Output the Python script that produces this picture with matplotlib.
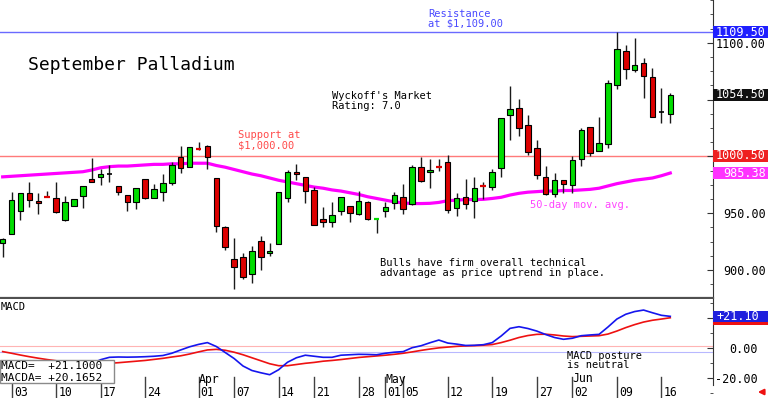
import matplotlib
matplotlib.use('Agg')
import matplotlib.pyplot as plt
import matplotlib.transforms as mtransforms
from matplotlib.patches import Rectangle
from matplotlib.ticker import MultipleLocator, FuncFormatter

plt.rcParams['font.family'] = ['DejaVu Sans Mono', 'DejaVu Sans']

# daily OHLC, Feb 28 .. Jun 17
opens = [923.5, 931.7, 951.7, 967.5, 961.0, 965.1, 963.1, 944.0, 956.3, 964.9,
         980.4, 982.1, 984.6, 974.2, 966.0, 960.1, 979.8, 963.6, 968.6, 976.8,
         999.2, 990.4, 1007.1, 1009.4, 980.7, 937.6, 909.4, 911.4, 896.5, 925.5,
         915.0, 922.6, 963.1, 986.5, 981.9, 970.4, 944.6, 942.0, 952.2, 956.3,
         949.3, 959.6, 944.6, 952.2, 958.7, 964.0, 957.8, 990.4, 986.3, 991.5,
         994.8, 954.6, 964.5, 961.0, 974.2, 972.8, 989.5, 1036.2, 1042.3, 1027.4,
         1007.1, 982.1, 966.6, 979.2, 974.8, 997.4, 1026.1, 1004.8, 1010.9, 1062.9,
         1092.8, 1076.1, 1082.0, 1070.2, 1039.3, 1037.1]
highs = [927.9, 968.4, 967.8, 977.5, 967.8, 969.8, 977.2, 965.4, 962.8, 974.2,
         998.3, 989.2, 992.7, 974.2, 966.0, 971.9, 979.8, 975.4, 984.8, 995.3,
         1009.1, 1008.0, 1012.9, 1010.0, 980.7, 938.7, 927.9, 914.7, 921.4, 929.9,
         924.0, 968.4, 988.0, 993.3, 981.9, 972.8, 955.7, 959.9, 964.0, 956.3,
         969.5, 961.0, 945.5, 959.9, 968.6, 975.4, 992.4, 999.5, 997.4, 997.4,
         1001.2, 967.5, 980.4, 981.6, 977.7, 988.9, 1033.5, 1062.0, 1050.5, 1036.4,
         1014.4, 991.8, 985.7, 979.2, 1000.6, 1025.3, 1026.1, 1034.9, 1067.3, 1109.5,
         1098.1, 1104.5, 1086.4, 1077.6, 1059.9, 1055.5]
lows = [911.2, 931.7, 944.0, 955.7, 949.0, 964.0, 950.5, 943.1, 956.1, 954.3,
        977.7, 974.8, 977.2, 965.8, 951.9, 953.7, 962.7, 963.4, 961.0, 974.8,
        985.1, 990.4, 1005.6, 988.6, 933.7, 917.6, 883.0, 892.1, 888.8, 900.0,
        912.3, 922.6, 960.1, 979.2, 959.2, 939.6, 937.6, 938.1, 948.4, 942.5,
        948.4, 944.0, 932.3, 946.9, 954.0, 949.0, 957.2, 977.7, 972.4, 987.4,
        950.2, 947.3, 953.4, 946.0, 962.2, 970.4, 982.1, 1014.2, 1018.0, 1001.2,
        980.1, 966.0, 964.5, 967.5, 967.5, 991.5, 1000.3, 1004.8, 1007.7, 1059.1,
        1068.1, 1074.6, 1051.1, 1034.9, 1029.7, 1029.1]
closes = [927.0, 961.6, 967.8, 961.4, 958.7, 964.3, 950.8, 959.6, 962.5, 974.2,
          977.7, 984.5, 984.6, 968.9, 960.1, 971.9, 963.1, 971.3, 976.8, 992.4,
          989.5, 1008.0, 1006.3, 999.7, 938.7, 920.0, 902.4, 894.1, 917.0, 911.2,
          916.7, 968.4, 986.3, 984.2, 969.8, 939.6, 942.3, 948.2, 964.0, 950.4,
          960.7, 944.9, 944.8, 955.7, 965.8, 953.4, 990.4, 978.3, 988.0, 990.4,
          952.8, 963.1, 958.1, 971.9, 973.7, 986.3, 1033.5, 1041.5, 1024.7, 1003.9,
          983.6, 966.6, 979.5, 975.7, 997.1, 1023.2, 1002.7, 1011.5, 1064.4, 1094.5,
          1076.9, 1080.5, 1071.0, 1034.9, 1039.3, 1054.5]

ma50 = [982.0, 982.5, 983.0, 983.5, 984.0, 984.5, 985.0, 985.5, 986.0, 986.5,
        988.0, 990.0, 991.0, 991.5, 991.5, 992.0, 992.5, 993.0, 993.0, 993.5,
        993.5, 994.0, 994.0, 994.0, 992.0, 990.5, 988.5, 986.5, 984.5, 983.0,
        981.0, 979.0, 977.5, 976.0, 974.5, 973.0, 972.0, 970.5, 969.5, 968.0,
        966.5, 964.5, 963.0, 961.5, 960.0, 959.0, 958.5, 958.5, 958.7, 959.5,
        961.0, 961.5, 962.0, 962.0, 962.2, 963.0, 964.0, 966.0, 967.5, 968.5,
        969.0, 969.5, 969.5, 970.0, 970.0, 970.5, 971.0, 972.0, 974.0, 976.0,
        977.5, 979.0, 980.0, 981.0, 983.0, 985.38]

macd = [-9.0, -11.0, -13.0, -14.5, -15.5, -16.0, -16.0, -15.5, -14.0, -12.5,
        -10.5, -7.8, -6.2, -6.0, -6.1, -6.0, -5.8, -5.5, -5.0, -3.5,
        -1.3, 0.8, 2.4, 3.6, 1.0, -3.0, -7.0, -12.0, -15.0, -16.5,
        -17.8, -14.5, -9.5, -6.5, -4.8, -5.5, -6.2, -6.2, -4.8, -4.5,
        -4.2, -4.3, -4.5, -3.5, -2.8, -2.4, 0.2, 1.5, 3.5, 5.3,
        3.3, 2.6, 1.7, 1.8, 2.2, 3.6, 8.0, 13.1, 14.2, 13.0,
        11.3, 9.0, 7.0, 5.8, 6.5, 8.2, 8.7, 9.1, 14.0, 19.3,
        22.5, 24.3, 25.3, 23.5, 21.8, 21.1]
macda = [-2.4, -3.5, -4.7, -5.8, -6.8, -7.7, -8.5, -9.2, -9.8, -10.2,
         -10.5, -10.5, -10.2, -9.8, -9.3, -8.8, -8.3, -7.6, -6.9, -6.0,
         -5.2, -4.0, -2.6, -1.3, -0.9, -1.5, -2.8, -4.5, -6.5, -8.5,
         -10.5, -11.8, -11.8, -11.0, -10.2, -9.6, -8.8, -8.3, -7.7, -7.0,
         -6.3, -5.8, -5.3, -4.8, -4.2, -3.5, -2.6, -1.6, -0.7, 0.1,
         0.6, 1.1, 1.4, 1.6, 1.9, 2.3, 3.6, 5.2, 7.0, 8.3,
         9.1, 9.2, 8.7, 8.0, 7.6, 7.8, 8.0, 8.2, 9.3, 11.3,
         13.6, 15.6, 17.3, 18.5, 19.3, 20.17]

support = 1000.5
resistance = 1109.5

date_pos = [1, 6, 11, 16, 22, 26, 31, 35, 40, 43, 45, 50, 55, 60, 64, 69, 74]
date_labels = ['03', '10', '17', '24', '01', '07', '14', '21', '28', '01', '05',
               '12', '19', '27', '02', '09', '16']
month_pos = [22, 43, 64]
month_labels = ['Apr', 'May', 'Jun']

GREEN = '#00dd00'
RED = '#dd0000'
MAGENTA = '#ff00ff'

W, H = 768, 398
fig = plt.figure(figsize=(7.68, 3.98), dpi=100)


def fx(px):
    return px / W


def fy(py):
    return 1 - py / H


ax = fig.add_axes([0, fy(298), fx(713), 298 / H])
ax2 = fig.add_axes([0, 0, fx(713), 99 / H])
xlim = (-0.3, 79.8)

# --- price panel
ax.axhline(resistance, color='#6a6aff', lw=1, zorder=1)
ax.axhline(support, color='#ff7a7a', lw=1, zorder=1)
ax.plot(range(len(ma50)), ma50, color=MAGENTA, lw=2.3, zorder=2)

for i in range(len(opens)):
    o, h, l, c = opens[i], highs[i], lows[i], closes[i]
    ax.vlines(i, l, h, color='#1a1a1a', lw=1, zorder=3)
    col = GREEN if c > o else RED
    if o == c:
        ax.hlines(o, i - 0.3, i + 0.3, color='black', lw=1.2, zorder=4)
    elif abs(c - o) < 1.5:
        ax.hlines((o + c) / 2, i - 0.32, i + 0.32, color=col, lw=1.6, zorder=4)
    else:
        ax.bar(i, abs(c - o), bottom=min(o, c), width=0.62, color=col,
               edgecolor='black', lw=0.8, zorder=4)

ax.set_xlim(*xlim)
ax.set_ylim(875.35, 1137.7)
ax.set_xticks([])
ax.yaxis.tick_right()
ax.yaxis.set_major_locator(MultipleLocator(50))
ax.yaxis.set_minor_locator(MultipleLocator(12.5))
# 1000 and 1050 sit under the value boxes
ax.yaxis.set_major_formatter(FuncFormatter(
    lambda v, p: '' if round(v) in (1000, 1050) else '%.2f' % v))
ax.tick_params(axis='y', which='major', direction='in', length=4, pad=38,
               labelsize=8.5, color='#333333')
ax.tick_params(axis='y', which='minor', direction='in', length=2.5, color='#333333')
for t in ax.get_yticklabels():
    t.set_ha('right')
for s in ['left', 'top']:
    ax.spines[s].set_visible(False)
ax.spines['bottom'].set_color('#505050')
ax.spines['bottom'].set_linewidth(1.6)
ax.spines['right'].set_color('#333333')

# value boxes on the price axis
blend = mtransforms.blended_transform_factory(ax.transAxes, ax.transData)
bw = 56 / 713
bh = 12 / 1.136
for val, col, txt in [(resistance, '#1f1fff', '1109.50'), (closes[-1], '#111111', '1054.50'),
                      (support, '#ee2020', '1000.50'), (ma50[-1], '#ff33ff', '985.38')]:
    ax.add_patch(Rectangle((1.0, val - bh / 2), bw, bh, transform=blend,
                           facecolor=col, edgecolor='none', clip_on=False, zorder=10))
    ax.text(1 + 53 / 713, val, txt, transform=blend, ha='right', va='center',
            color='white', fontsize=8.5, clip_on=False, zorder=11)

# --- MACD panel
ax2.axhline(1.3, color='#ffb4b4', lw=0.8)
ax2.axhline(-2.7, color='#b8b8ff', lw=0.8)
ax2.plot(range(len(macda)), macda, color='#ee1111', lw=1.2, zorder=3)
ax2.plot(range(len(macd)), macd, color='#1515ee', lw=1.2, zorder=4)
ax2.set_xlim(*xlim)
ax2.set_ylim(-33.33, 32.67)
ax2.set_xticks([])
ax2.yaxis.tick_right()
ax2.set_yticks([-20, 0, 20])
ax2.yaxis.set_minor_locator(MultipleLocator(10))
ax2.yaxis.set_major_formatter(FuncFormatter(
    lambda v, p: '' if round(v) == 20 else '%.2f' % v))
ax2.tick_params(axis='y', which='major', direction='in', length=4, pad=32,
                labelsize=8.5, color='#333333')
ax2.tick_params(axis='y', which='minor', direction='in', length=2.5, color='#333333')
for t in ax2.get_yticklabels():
    t.set_ha('right')
for s in ['left', 'top', 'bottom']:
    ax2.spines[s].set_visible(False)
ax2.spines['right'].set_color('#333333')
ax2.spines['right'].set_bounds(-24.67, 32.67)

blend2 = mtransforms.blended_transform_factory(ax2.transAxes, ax2.transData)
ax2.add_patch(Rectangle((1.0, macda[-1] - 7 / 1.5), bw, 8 / 1.5, transform=blend2,
                        facecolor='#ee1111', edgecolor='none', clip_on=False, zorder=10))
ax2.add_patch(Rectangle((1.0, macd[-1] - 5.5 / 1.5), bw, 11 / 1.5, transform=blend2,
                        facecolor='#1f1fdd', edgecolor='none', clip_on=False, zorder=11))
ax2.text(1 + 3 / 713, macd[-1], '+21.10', transform=blend2, ha='left', va='center',
         color='white', fontsize=8.5, clip_on=False, zorder=12)

# dates strip
bx = mtransforms.blended_transform_factory(ax2.transData, ax2.transAxes)
for p, lab in zip(date_pos, date_labels):
    ax2.plot([p, p], [0, 21 / 99], color='#404040', lw=1, transform=bx, clip_on=False)
    ax2.text(p + 0.25, 6 / 99, lab, transform=bx, ha='left', va='center', fontsize=8.3)
for p, lab in zip(month_pos, month_labels):
    ax2.text(p, 19 / 99, lab, transform=bx, ha='left', va='center', fontsize=8.3)

# legend box
fig.patches.append(Rectangle((fx(0), fy(383)), fx(114), 23 / H, transform=fig.transFigure,
                             facecolor='white', edgecolor='#8a8a8a', lw=1, zorder=20))
fig.text(fx(1), fy(366), 'MACD=  +21.1000', fontsize=8, va='center', zorder=21)
fig.text(fx(1), fy(378), 'MACDA= +20.1652', fontsize=8, va='center', zorder=21)

# annotations
fig.text(fx(28), fy(65), 'September Palladium', fontsize=13, va='center')
fig.text(fx(332), fy(91), "Wyckoff's Market\nRating: 7.0", fontsize=7.5, va='top',
         linespacing=1.0)
fig.text(fx(428), fy(9), 'Resistance\nat $1,109.00', fontsize=7.5, va='top',
         color='#4a4aff', linespacing=1.0)
fig.text(fx(238), fy(130), 'Support at\n$1,000.00', fontsize=7.5, va='top',
         color='#ff4a4a', linespacing=1.0)
fig.text(fx(380), fy(258), 'Bulls have firm overall technical\nadvantage as price uptrend in place.',
         fontsize=7.5, va='top', linespacing=1.0)
fig.text(fx(530), fy(205), '50-day mov. avg.', fontsize=7.5, va='center', color='#ff44ff')
fig.text(fx(1), fy(307), 'MACD', fontsize=7.5, va='center')
fig.text(fx(567), fy(351), 'MACD posture\nis neutral', fontsize=7.5, va='top',
         linespacing=0.92)

ax2.annotate('', xy=(755, 6), xytext=(767, 6), xycoords='figure pixels',
             textcoords='figure pixels',
             arrowprops=dict(arrowstyle='-|>', color='#ee1111', lw=1.5, mutation_scale=8))

fig.savefig('out.png', dpi=100)
